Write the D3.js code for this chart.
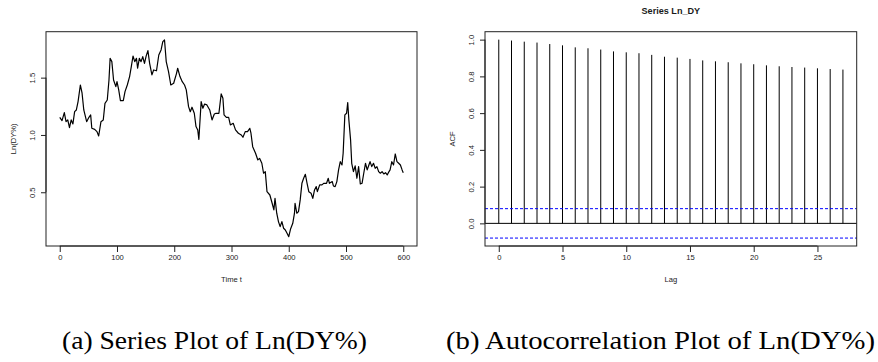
<!DOCTYPE html>
<html>
<head>
<meta charset="utf-8">
<script src="https://cdn.jsdelivr.net/npm/d3@7"></script>
<style>
  body { margin: 0; background: #fff; }
  svg { display: block; }
  text { font-family: "Liberation Sans", Arial, sans-serif; fill: #1a1a1a; }
  .caption { font-family: "Liberation Serif", "Times New Roman", Times, serif; fill: #000; }
</style>
</head>
<body>
<svg id="chart" width="878" height="362"></svg>
<script>
// series: time index and Ln(DY%)
const timeIdx = [0, 4, 8, 11, 14, 17, 20, 23, 26, 29, 32, 36, 39, 42, 47, 51, 54, 56, 61, 65,
  68, 72, 76, 79, 83, 86, 88, 91, 94, 98, 100, 103, 106, 111, 114, 118, 122, 125, 128, 131,
  134, 136, 139, 142, 145, 148, 151, 154, 157, 161, 164, 169, 173, 177, 180, 183, 186, 190, 194,
  199, 204, 206, 210, 214, 218, 221, 225, 228, 231, 235, 238, 241, 243, 247, 250, 253, 257, 262,
  266, 270, 273, 278, 282, 285, 287, 291, 295, 298, 303, 307, 312, 317, 320, 324, 328, 332, 334,
  337, 342, 346, 349, 353, 356, 359, 362, 367, 371, 374, 376, 379, 382, 385, 388, 391, 394, 397,
  400, 403, 407, 410, 411, 414, 417, 420, 423, 426, 429, 432, 435, 439, 442, 445, 448, 450, 454,
  458, 461, 466, 469, 471, 476, 478, 481, 484, 487, 490, 493, 495, 498, 501, 503, 505, 508, 510,
  513, 516, 519, 522, 525, 528, 531, 534, 537, 540, 542, 545, 548, 551, 554, 557, 560, 563, 566,
  569, 572, 574, 577, 580, 583, 586, 589, 592, 595, 598, 600];
const lnDY = [1.154, 1.125, 1.195, 1.116, 1.131, 1.064, 1.131, 1.096, 1.203, 1.218, 1.291, 1.436,
  1.364, 1.218, 1.116, 1.154, 1.175, 1.058, 1.049, 1.029, 0.991, 1.116, 1.131, 1.276, 1.305,
  1.48, 1.669, 1.64, 1.48, 1.422, 1.465, 1.393, 1.3, 1.3, 1.378, 1.436, 1.509, 1.596, 1.689,
  1.64, 1.669, 1.582, 1.669, 1.64, 1.683, 1.625, 1.69, 1.736, 1.625, 1.524, 1.567, 1.56, 1.698,
  1.742, 1.814, 1.829, 1.64, 1.553, 1.436,
  1.451, 1.538, 1.582, 1.509, 1.465, 1.436, 1.393, 1.247, 1.203, 1.242, 1.189, 1.073, 1.044,
  0.962, 1.291, 1.233, 1.27, 1.262, 1.218, 1.131, 1.183, 1.189, 1.189, 1.358, 1.32, 1.175,
  1.154, 1.154, 1.087, 1.102, 1.044, 1.015, 1.0, 0.98, 1.029, 1.029, 1.058, 1.015, 0.898, 0.84,
  0.782, 0.796, 0.753, 0.666, 0.68, 0.505, 0.476, 0.404, 0.346, 0.447, 0.317, 0.244, 0.2,
  0.244, 0.186, 0.171, 0.142, 0.113, 0.177, 0.229, 0.317,
  0.404, 0.317, 0.331, 0.433, 0.578, 0.622, 0.657, 0.578, 0.505, 0.491, 0.447, 0.52, 0.549,
  0.505, 0.564, 0.564, 0.578, 0.578, 0.622, 0.578, 0.593, 0.555, 0.549, 0.593, 0.695, 0.767,
  0.738, 0.84, 1.175, 1.189, 1.282, 1.131, 0.956, 0.753, 0.68, 0.73, 0.622, 0.724, 0.572,
  0.578, 0.666, 0.753, 0.695, 0.738, 0.767, 0.724, 0.753, 0.709, 0.724, 0.68, 0.666, 0.68,
  0.66, 0.671, 0.651, 0.671, 0.695, 0.767, 0.738, 0.834, 0.767, 0.753, 0.738, 0.695, 0.671];

// panel (b): sample autocorrelations
const lags = [0, 1, 2, 3, 4, 5, 6, 7, 8, 9, 10, 11, 12, 13, 14, 15, 16, 17, 18, 19, 20, 21, 22, 23, 24, 25, 26, 27];
const acfVals = [1.0, 0.995, 0.989, 0.984, 0.976, 0.969, 0.958, 0.953, 0.946, 0.936, 0.931, 0.926,
  0.917, 0.907, 0.902, 0.895, 0.887, 0.882, 0.877, 0.871, 0.866, 0.860, 0.855, 0.851, 0.848,
  0.844, 0.840, 0.837];
const ciBound = 0.08;

const timeTicks = [0, 100, 200, 300, 400, 500, 600];
const levelTicks = [0.5, 1.0, 1.5];
const lagTicks = [0, 5, 10, 15, 20, 25];
const acfTicks = [0.0, 0.2, 0.4, 0.6, 0.8, 1.0];

const captions = ['(a) Series Plot of Ln(DY%)', '(b) Autocorrelation Plot of Ln(DY%)'];

const svg = d3.select('#chart');
svg.append('rect').attr('width', 878).attr('height', 362).attr('fill', '#fff');

const fs = 7.6;

// R-style axes: ticks outward, rotated y labels
const drawAxes = (g, x, y, xt, yt, fmtY, box) => {
  const xa = g.append('g').attr('transform', `translate(0,${box.bottom})`)
    .call(d3.axisBottom(x).tickValues(xt).tickSize(6).tickPadding(3).tickFormat(d3.format('d')));
  xa.select('.domain')
    .attr('d', `M${x(xt[0])},0H${x(xt[xt.length - 1])}`)
    .attr('stroke', '#222');
  xa.selectAll('.tick line').attr('stroke', '#222');
  xa.selectAll('.tick text').attr('font-size', fs).attr('font-family', null).attr('fill', '#1a1a1a');

  const ya = g.append('g').attr('transform', `translate(${box.left},0)`)
    .call(d3.axisLeft(y).tickValues(yt).tickSize(5).tickFormat(fmtY));
  ya.select('.domain')
    .attr('d', `M0,${y(yt[0])}V${y(yt[yt.length - 1])}`)
    .attr('stroke', '#222');
  ya.selectAll('.tick line').attr('stroke', '#222');
  ya.selectAll('.tick text')
    .attr('font-size', fs)
    .attr('font-family', null)
    .attr('fill', '#1a1a1a')
    .attr('x', null).attr('dy', null)
    .attr('text-anchor', 'middle')
    .attr('transform', 'translate(-11.3,0) rotate(-90)');

  g.append('rect')
    .attr('x', box.left).attr('y', box.top)
    .attr('width', box.right - box.left).attr('height', box.bottom - box.top)
    .attr('fill', 'none').attr('stroke', '#222').attr('stroke-width', 1);
};

// ---- panel (a) ----
const boxA = { left: 46, right: 417, top: 31.7, bottom: 246 };
const xA = d3.scaleLinear().domain([-24, 624]).range([boxA.left, boxA.right]);
const yA = d3.scaleLinear().domain([0.031, 1.901]).range([boxA.bottom, boxA.top]);
const gA = svg.append('g');

gA.append('path')
  .datum(timeIdx.map((t, i) => [t, lnDY[i]]))
  .attr('fill', 'none')
  .attr('stroke', '#000')
  .attr('stroke-width', 1.2)
  .attr('stroke-linejoin', 'round')
  .attr('d', d3.line().x(d => xA(d[0])).y(d => yA(d[1])));

drawAxes(gA, xA, yA, timeTicks, levelTicks, d3.format('.1f'), boxA);

gA.append('text')
  .attr('x', (boxA.left + boxA.right) / 2).attr('y', 282)
  .attr('text-anchor', 'middle').attr('font-size', fs)
  .text('Time t');
gA.append('text')
  .attr('transform', `translate(16,${(boxA.top + boxA.bottom) / 2}) rotate(-90)`)
  .attr('text-anchor', 'middle').attr('font-size', fs)
  .text('Ln(DY%)');

// ---- panel (b) ----
const boxB = { left: 485, right: 856.7, top: 31.7, bottom: 246 };
const xB = d3.scaleLinear().domain([-1.08, 28.08]).range([boxB.left, boxB.right]);
const yB = d3.scaleLinear().domain([-0.1232, 1.0432]).range([boxB.bottom, boxB.top]);
const gB = svg.append('g');

gB.selectAll('line.spike')
  .data(lags)
  .join('line')
  .attr('class', 'spike')
  .attr('x1', d => xB(d)).attr('x2', d => xB(d))
  .attr('y1', yB(0)).attr('y2', (d, i) => yB(acfVals[i]))
  .attr('stroke', '#000').attr('stroke-width', 1);

gB.append('line')
  .attr('x1', boxB.left).attr('x2', boxB.right)
  .attr('y1', yB(0)).attr('y2', yB(0))
  .attr('stroke', '#000').attr('stroke-width', 1);

gB.selectAll('line.ci')
  .data([ciBound, -ciBound])
  .join('line')
  .attr('class', 'ci')
  .attr('x1', boxB.left).attr('x2', boxB.right)
  .attr('y1', d => yB(d)).attr('y2', d => yB(d))
  .attr('stroke', '#0000ff').attr('stroke-width', 1)
  .attr('stroke-dasharray', '3,2');

drawAxes(gB, xB, yB, lagTicks, acfTicks, d3.format('.1f'), boxB);

gB.append('text')
  .attr('x', (boxB.left + boxB.right) / 2).attr('y', 282)
  .attr('text-anchor', 'middle').attr('font-size', fs)
  .text('Lag');
gB.append('text')
  .attr('transform', `translate(455,${(boxB.top + boxB.bottom) / 2}) rotate(-90)`)
  .attr('text-anchor', 'middle').attr('font-size', fs)
  .text('ACF');
gB.append('text')
  .attr('x', (boxB.left + boxB.right) / 2).attr('y', 13.5)
  .attr('text-anchor', 'middle').attr('font-size', 9.1).attr('font-weight', 'bold')
  .text('Series  Ln_DY');

// ---- captions (condensed serif, as in the source figure) ----
const capPos = [{ x: 62, w: 305 }, { x: 446, w: 429 }];
svg.selectAll('text.caption')
  .data(captions)
  .join('text')
  .attr('class', 'caption')
  .attr('x', (d, i) => capPos[i].x)
  .attr('y', 349)
  .attr('font-size', 25)
  .attr('textLength', (d, i) => capPos[i].w)
  .attr('lengthAdjust', 'spacingAndGlyphs')
  .text(d => d);
</script>
</body>
</html>
